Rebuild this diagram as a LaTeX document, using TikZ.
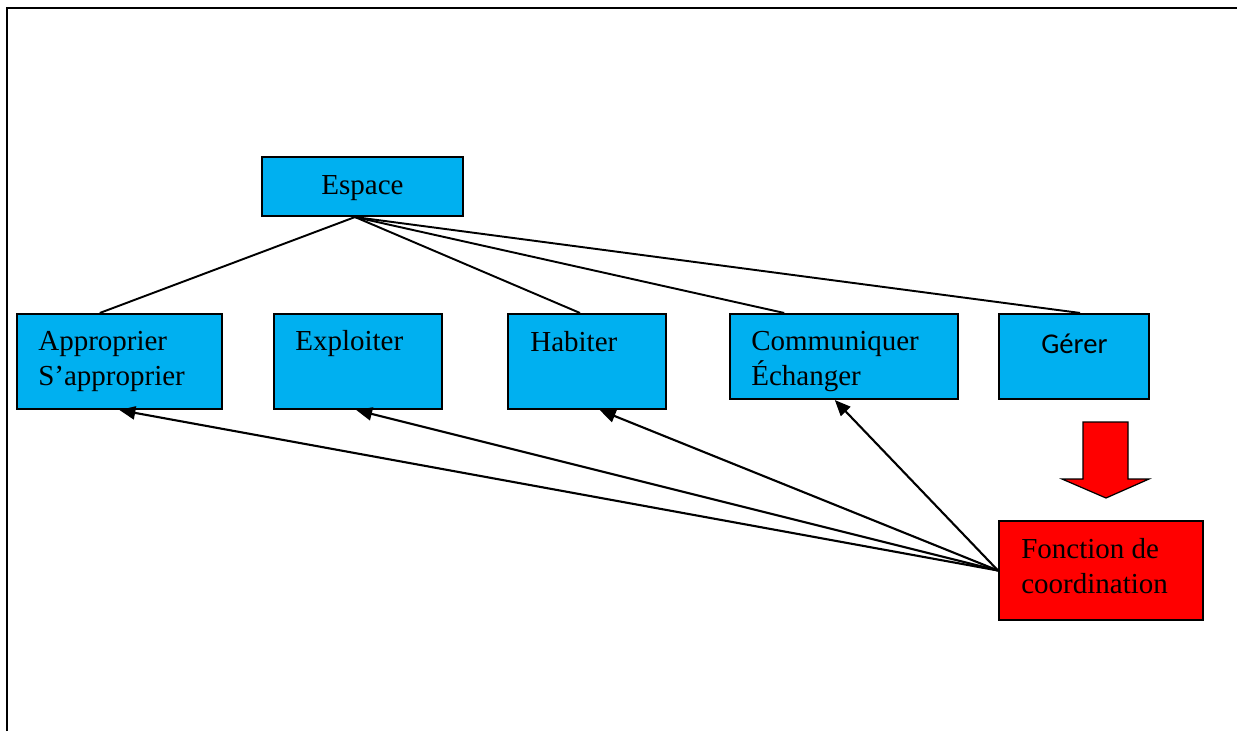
\documentclass[tikz,border=0pt]{standalone}
\usepackage{fontspec}
\setmainfont{Liberation Serif}
\newfontfamily\gererfont{Carlito}
\usetikzlibrary{arrows.meta,calc}
\definecolor{boxblue}{HTML}{00B0F0}
\tikzstyle{box}=[rectangle,draw=black,line width=1.2pt,fill=boxblue,inner sep=0pt]
\tikzstyle{redbox}=[box,fill=red]
\tikzstyle{txt}=[font=\fontsize{16.5}{19.8}\selectfont,inner sep=0pt,align=left,anchor=base west]
\tikzstyle{edge}=[draw,line width=1.2pt,-{Triangle[length=9pt,width=7.5pt]}]
\tikzstyle{undirectededge}=[draw,line width=1.1pt]

\begin{document}
\begin{tikzpicture}[x=0.02cm,y=-0.02cm]
\useasboundingbox (0,0) rectangle (1237,731);

% frame
\draw[line width=1.3pt] (7,731) -- (7,8) -- (1237,8);

% top
\node[box,minimum width=4.02cm,minimum height=1.18cm] (espace) at (362.5,186.5) {};
\node[txt,anchor=base] (espace-t) at (362.5,194) {Espace};

% layer 1
\foreach \pos/\name/\w/\h in {{(119.5,361.5)/appr/4.1/1.9}, {(358,361.5)/expl/3.36/1.9},
    {(587,361.5)/hab/3.16/1.9}, {(844,356.5)/comm/4.56/1.7}, {(1074,356.5)/gerer/3.0/1.7}}
  \node[box,minimum width=\w cm,minimum height=\h cm] (\name) at \pos {};

% coordination
\node[redbox,minimum width=4.08cm,minimum height=1.98cm] (fonct) at (1101,570.5) {};

% labels (base = last line)
\foreach \pos/\name/\label in {{(38,385)/appr-t/{Approprier\\S’approprier}}, {(295,350)/expl-t/{Exploiter}},
    {(530,351)/hab-t/{Habiter}}, {(751,385)/comm-t/{Communiquer\\Échanger}},
    {(1021,593)/fonct-t/{Fonction de\\coordination}}}
  \node[txt] (\name) at \pos {\label};
\node[txt,font=\gererfont\fontsize{16.3}{19.6}\selectfont] (gerer-t) at (1041,353) {Gérer};

% Connect Espace with layer 1
\coordinate (esp-s) at ($(espace.south west)!0.463!(espace.south east)$);
\foreach \dest/\f in {appr/0.405, hab/0.456, comm/0.24, gerer/0.54}
  \path[undirectededge] (esp-s) -- ($(\dest.north west)!\f!(\dest.north east)$);

% arrows from coordination
\foreach \dest/\f in {appr/0.5, expl/0.49, hab/0.58, comm/0.46}
  \path[edge] (fonct.west) -- ($(\dest.south west)!\f!(\dest.south east)$);

% big red arrow
\draw[fill=red,line width=0.7pt] (1083,422) -- (1128,422) -- (1128,479) -- (1149,479)
  -- (1106,498) -- (1062,479) -- (1083,479) -- cycle;

\end{tikzpicture}
\end{document}
